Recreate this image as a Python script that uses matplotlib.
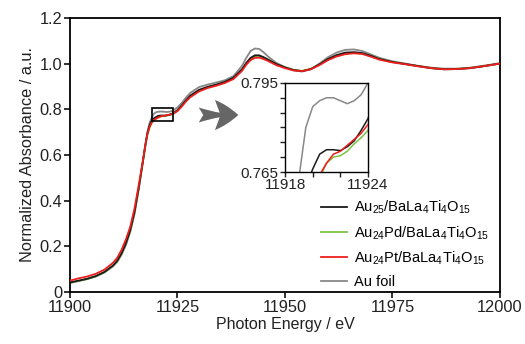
"""
Au L3-edge XANES: Au25 / Au24Pd / Au24Pt on BaLa4Ti4O15 vs Au foil,
with a zoomed inset of the edge shoulder.
"""

import matplotlib
matplotlib.use("Agg")
import matplotlib.pyplot as plt
import matplotlib.ticker as mticker
from matplotlib.patches import Rectangle

plt.rcParams["font.family"] = ["Liberation Sans", "DejaVu Sans"]
plt.rcParams["mathtext.fontset"] = "custom"
plt.rcParams["mathtext.rm"] = "Liberation Sans"
plt.rcParams["mathtext.default"] = "regular"

# ---- data ----
energy = [
    11900, 11902, 11904, 11906, 11908, 11910, 11911, 11912, 11913, 11914,
    11915, 11916, 11917, 11917.5, 11918, 11918.5, 11919, 11919.5, 11920, 11920.5,
    11921, 11921.5, 11922, 11922.5, 11923, 11923.5, 11924, 11925, 11926, 11927,
    11928, 11930, 11932, 11934, 11936, 11938, 11940, 11941, 11942, 11943,
    11944, 11945, 11946, 11948, 11950, 11952, 11954, 11956, 11958, 11960,
    11962, 11964, 11966, 11968, 11970, 11972, 11975, 11978, 11981, 11984,
    11987, 11990, 11993, 11996, 12000,
]

au25 = [
    0.042, 0.050, 0.058, 0.070, 0.088, 0.116, 0.137, 0.170, 0.213, 0.270,
    0.350, 0.458, 0.578, 0.640, 0.695, 0.728, 0.750, 0.760, 0.766, 0.771,
    0.7725, 0.7725, 0.7722, 0.7735, 0.7755, 0.779, 0.783, 0.796, 0.817, 0.840,
    0.860, 0.885, 0.898, 0.908, 0.920, 0.938, 0.975, 1.003, 1.025, 1.036,
    1.036, 1.028, 1.018, 0.998, 0.983, 0.972, 0.967, 0.976, 0.996, 1.020,
    1.037, 1.048, 1.050, 1.046, 1.034, 1.020, 1.007, 0.998, 0.989, 0.980,
    0.975, 0.976, 0.980, 0.988, 1.000,
]

au24pd = [
    0.040, 0.049, 0.057, 0.069, 0.087, 0.115, 0.136, 0.169, 0.212, 0.268,
    0.348, 0.455, 0.575, 0.635, 0.688, 0.720, 0.740, 0.752, 0.758, 0.763,
    0.768, 0.770, 0.7705, 0.772, 0.7745, 0.7765, 0.779, 0.794, 0.815, 0.838,
    0.858, 0.883, 0.897, 0.907, 0.919, 0.936, 0.972, 1.000, 1.021, 1.033,
    1.034, 1.027, 1.018, 0.998, 0.984, 0.973, 0.968, 0.977, 0.996, 1.019,
    1.035, 1.044, 1.047, 1.044, 1.033, 1.020, 1.007, 0.998, 0.989, 0.981,
    0.976, 0.977, 0.981, 0.988, 1.000,
]

au24pt = [
    0.050, 0.060, 0.068, 0.080, 0.098, 0.128, 0.150, 0.185, 0.230, 0.285,
    0.365, 0.470, 0.580, 0.640, 0.690, 0.722, 0.742, 0.753, 0.759, 0.764,
    0.768, 0.771, 0.772, 0.774, 0.776, 0.778, 0.781, 0.792, 0.812, 0.835,
    0.853, 0.878, 0.893, 0.903, 0.915, 0.932, 0.968, 0.995, 1.015, 1.025,
    1.026, 1.020, 1.012, 0.993, 0.980, 0.970, 0.967, 0.975, 0.993, 1.015,
    1.031, 1.041, 1.045, 1.042, 1.030, 1.017, 1.005, 0.997, 0.988, 0.980,
    0.975, 0.976, 0.980, 0.988, 1.000,
]

au_foil = [
    0.040, 0.048, 0.057, 0.068, 0.085, 0.112, 0.132, 0.163, 0.205, 0.262,
    0.340, 0.450, 0.575, 0.640, 0.700, 0.740, 0.763, 0.780, 0.787, 0.789,
    0.790, 0.790, 0.789, 0.788, 0.789, 0.791, 0.795, 0.808, 0.828, 0.852,
    0.872, 0.897, 0.908, 0.917, 0.927, 0.945, 0.990, 1.025, 1.055, 1.066,
    1.064, 1.050, 1.032, 1.003, 0.985, 0.970, 0.965, 0.975, 1.000, 1.028,
    1.048, 1.060, 1.062, 1.055, 1.040, 1.025, 1.010, 1.000, 0.990, 0.982,
    0.978, 0.978, 0.982, 0.990, 1.002,
]

series = [
    (r"Au$_{25}$/BaLa$_4$Ti$_4$O$_{15}$", au25, "#1a1a1a", 3),
    (r"Au$_{24}$Pd/BaLa$_4$Ti$_4$O$_{15}$", au24pd, "#7cc142", 2),
    (r"Au$_{24}$Pt/BaLa$_4$Ti$_4$O$_{15}$", au24pt, "#ee1c1c", 4),
    ("Au foil", au_foil, "#888888", 1),
]

x_ticks = [11900, 11925, 11950, 11975, 12000]
y_ticks = [0, 0.2, 0.4, 0.6, 0.8, 1.0, 1.2]

fig = plt.figure(figsize=(5.25, 3.44), dpi=100)
ax = fig.add_axes([0.1333, 0.151, 0.819, 0.797])

for label, vals, color, z in series:
    ax.plot(energy, vals, color=color, lw=1.3, label=label, zorder=z)

ax.set_xlim(11900, 12000)
ax.set_ylim(0, 1.2)
ax.set_xticks(x_ticks)
ax.set_yticks(y_ticks)
ax.yaxis.set_major_formatter(
    mticker.FuncFormatter(lambda v, _: "0" if abs(v) < 1e-9 else f"{v:.1f}")
)
ax.tick_params(direction="out", length=4, width=1.3, labelsize=11.8,
               colors="#222222", pad=1.5)
for spine in ax.spines.values():
    spine.set_linewidth(1.3)
ax.set_xlabel("Photon Energy / eV", fontsize=11.5, color="#222222", labelpad=2)
ax.set_ylabel("Normalized Absorbance / a.u.", fontsize=11.8, color="#222222",
              labelpad=3)

# box marking the zoomed region
ax.add_patch(Rectangle((11919, 0.748), 5, 0.057, fill=False,
                       edgecolor="black", lw=1.2, zorder=6))

# gray pointer arrow towards the inset
ax.annotate("", xy=(11939.8, 0.775), xytext=(11929.3, 0.775),
            arrowprops=dict(arrowstyle="fancy,head_length=0.7,head_width=0.9,tail_width=0.45",
                            color="#666666", mutation_scale=24, lw=0))

ax.legend(loc="lower left", bbox_to_anchor=(0.57, -0.01), frameon=False,
          fontsize=10.5, handlelength=1.8, handletextpad=0.5,
          labelspacing=0.55, borderaxespad=0)

# inset
ins = fig.add_axes([0.543, 0.5, 0.158, 0.259])
for label, vals, color, z in series:
    ins.plot(energy, vals, color=color, lw=1.1, zorder=z)
ins.set_xlim(11918, 11924)
ins.set_ylim(0.765, 0.795)
ins.xaxis.set_major_locator(mticker.MultipleLocator(2))
ins.yaxis.set_major_locator(mticker.MultipleLocator(0.005))
ins.xaxis.set_major_formatter(
    mticker.FuncFormatter(lambda v, _: f"{v:.0f}" if round(v) in (11918, 11924) else "")
)
ins.yaxis.set_major_formatter(
    mticker.FuncFormatter(lambda v, _: f"{v:.3f}" if abs(v - 0.765) < 1e-6 or abs(v - 0.795) < 1e-6 else "")
)
ins.tick_params(direction="out", length=3.5, width=1.0, labelsize=11,
                colors="#222222", pad=1)
for spine in ins.spines.values():
    spine.set_linewidth(1.0)

fig.savefig("out.png", dpi=100)
